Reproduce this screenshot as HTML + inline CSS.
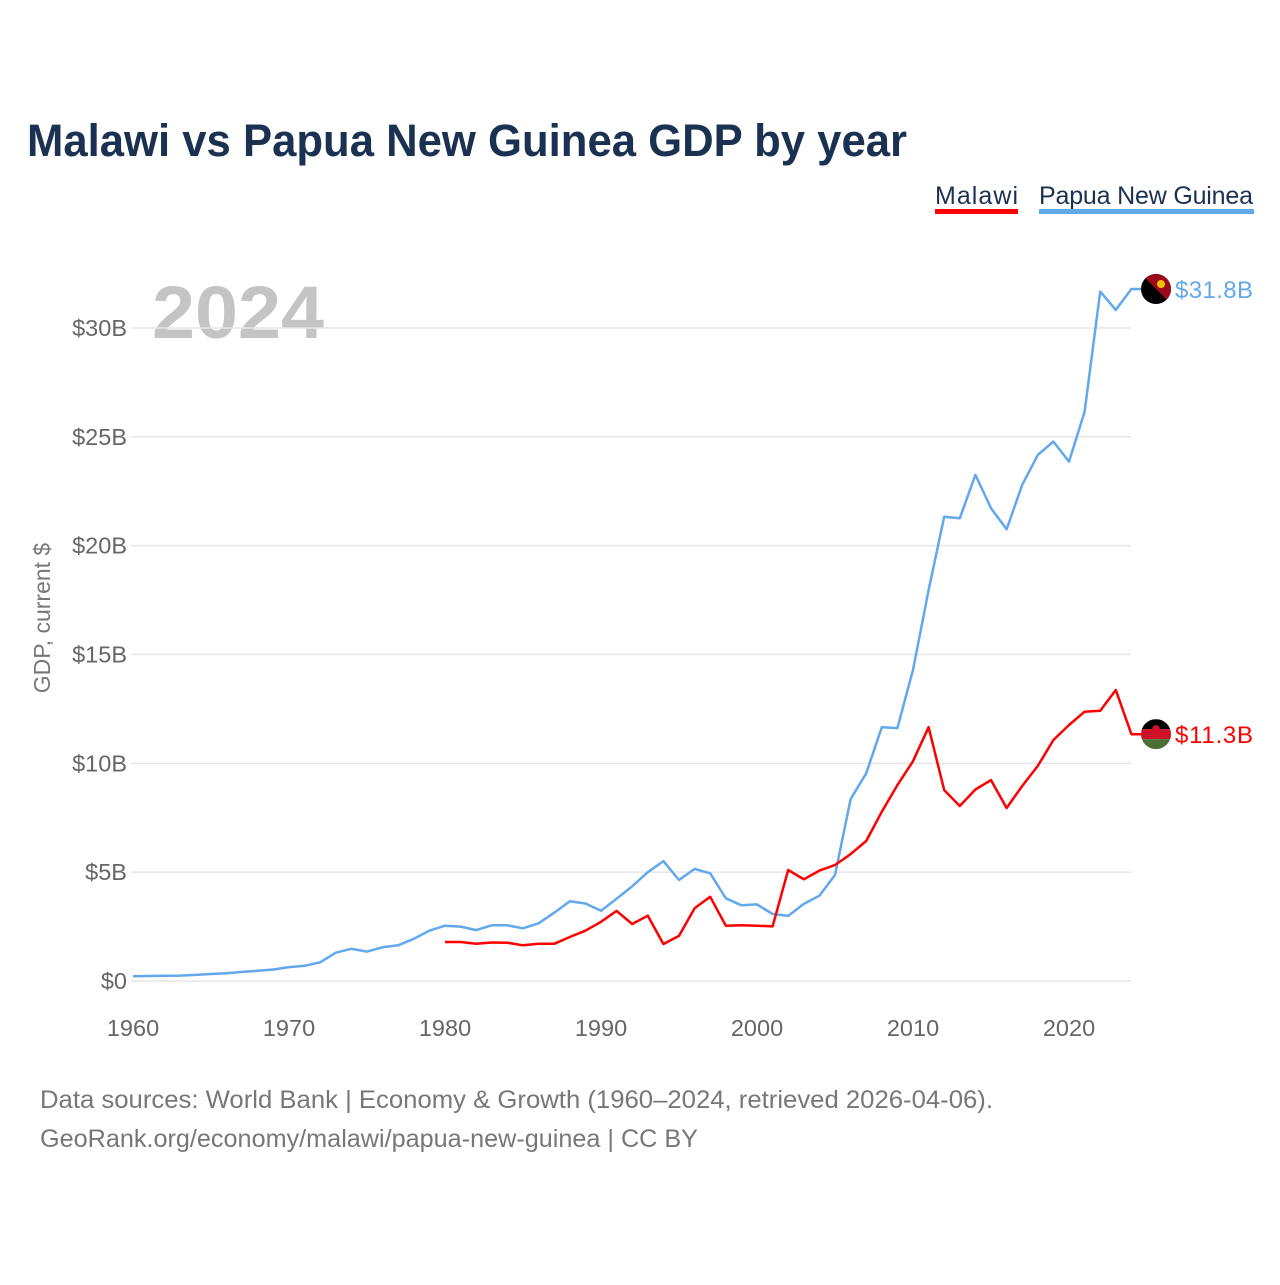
<!DOCTYPE html>
<html><head><meta charset="utf-8"><style>
body{margin:0;background:#fff;width:1280px;height:1280px;overflow:hidden;font-family:"Liberation Sans",sans-serif}
</style></head><body>
<svg width="1280" height="1280" xmlns="http://www.w3.org/2000/svg">
<text x="27" y="156" font-size="45" font-weight="bold" fill="#1b3152" textLength="880" lengthAdjust="spacingAndGlyphs">Malawi vs Papua New Guinea GDP by year</text>
<g>
<text x="935" y="204" font-size="25" fill="#1b3152" textLength="83">Malawi</text>
<rect x="935" y="209" width="83" height="5" fill="#ff0000"/>
<text x="1039" y="204" font-size="25" fill="#1b3152" textLength="214">Papua New Guinea</text>
<rect x="1039" y="209" width="215" height="5" fill="#62a8ec"/>
</g>
<text x="152" y="338" font-size="74" font-weight="bold" fill="#c4c4c4" textLength="172" lengthAdjust="spacingAndGlyphs">2024</text>
<g id="grid"></g><g id="lines"></g><g id="labels"></g>
<text transform="translate(50,618) rotate(-90)" text-anchor="middle" font-size="23" fill="#777">GDP, current $</text>
<text x="40" y="1108" font-size="25" fill="#777" textLength="953" lengthAdjust="spacingAndGlyphs">Data sources: World Bank | Economy &amp; Growth (1960–2024, retrieved 2026-04-06).</text>
<text x="40" y="1147" font-size="25" fill="#777" textLength="658" lengthAdjust="spacingAndGlyphs">GeoRank.org/economy/malawi/papua-new-guinea | CC BY</text>
</svg>
<script>
const years=[];for(let y=1960;y<=2024;y++)years.push(y);
const pngValues=[0.22,0.23,0.24,0.25,0.28,0.32,0.36,0.42,0.47,0.53,0.64,0.7,0.86,1.3,1.48,1.35,1.55,1.64,1.94,2.31,2.54,2.5,2.34,2.56,2.56,2.42,2.65,3.14,3.66,3.56,3.23,3.78,4.35,5.0,5.51,4.64,5.15,4.95,3.8,3.48,3.52,3.08,2.99,3.54,3.92,4.87,8.35,9.54,11.66,11.62,14.29,17.96,21.33,21.26,23.25,21.72,20.75,22.79,24.17,24.78,23.86,26.15,31.67,30.83,31.79];
const mwValues=[null,null,null,null,null,null,null,null,null,null,null,null,null,null,null,null,null,null,null,null,1.79,1.79,1.71,1.77,1.76,1.64,1.71,1.71,2.02,2.31,2.72,3.22,2.62,3.0,1.7,2.07,3.34,3.87,2.54,2.56,2.54,2.51,5.1,4.67,5.07,5.33,5.83,6.43,7.78,9.0,10.1,11.66,8.77,8.04,8.8,9.23,7.95,8.96,9.88,11.07,11.76,12.37,12.42,13.37,11.34];
const yTicks=[0,5,10,15,20,25,30];
const yTickLabels=["$0","$5B","$10B","$15B","$20B","$25B","$30B"];
const xTicks=[1960,1970,1980,1990,2000,2010,2020];
const NS="http://www.w3.org/2000/svg";
const xs=yr=>133+(yr-1960)*15.6;
const ys=v=>981-v*21.767;
function mk(tag,attrs,parent,text){const e=document.createElementNS(NS,tag);for(const k in attrs)e.setAttribute(k,attrs[k]);if(text!==undefined)e.textContent=text;parent.appendChild(e);return e;}
const grid=document.getElementById('grid'),lines=document.getElementById('lines'),labels=document.getElementById('labels');
yTicks.forEach((t,i)=>{
 const l=mk('line',{x1:131,x2:1131,y1:ys(t),y2:ys(t),stroke:'#e6e6e6','stroke-width':1.5},grid);
 
 
 const tx=mk('text',{x:127,y:ys(t)+8,'text-anchor':'end','font-size':23.5,fill:'#666'},grid,yTickLabels[i]);
 
 
});
xTicks.forEach(t=>{
 const tx=mk('text',{x:xs(t),y:1036,'text-anchor':'middle','font-size':23.5,fill:'#666'},grid,String(t));
 
 
});
function path(vals,color,name){
 let d='';let last=null;
 vals.forEach((v,i)=>{if(v==null)return;d+=(d?'L':'M')+xs(years[i]).toFixed(1)+','+ys(v).toFixed(1);last=v;});
 d+='L1141,'+ys(last).toFixed(1);
 const p=mk('path',{d:d,fill:'none',stroke:color,'stroke-width':2.5,'stroke-linejoin':'round'},lines);
 
 
 return last;
}
const lp=path(pngValues,'#62a8ec','line-papua-new-guinea');
const lm=path(mwValues,'#ff0000','line-malawi');
let g=mk('g',{},labels);


const cy1=ys(lp);
mk('defs',{},g).innerHTML='<clipPath id="c1"><circle cx="1156" cy="'+cy1+'" r="15"/></clipPath><clipPath id="c2"><circle cx="1156" cy="'+ys(lm)+'" r="15"/></clipPath>';
mk('circle',{cx:1156,cy:cy1,r:15,fill:'#000'},g);
mk('polygon',{points:(1141)+','+(cy1-15)+' 1171,'+(cy1-15)+' 1171,'+(cy1+15),fill:'#9b0a1c','clip-path':'url(#c1)'},g);
mk('circle',{cx:1161,cy:cy1-5,r:4,fill:'#f2c200'},g);
const t1=mk('text',{x:1175,y:cy1+9,'font-size':24,fill:'#62a8ec',textLength:78},labels,'$'+lp.toFixed(1)+'B');


g=mk('g',{'clip-path':'url(#c2)'},labels);


const cy2=ys(lm);
mk('rect',{x:1141,y:cy2-15,width:30,height:10,fill:'#000'},g);
mk('rect',{x:1141,y:cy2-5,width:30,height:10,fill:'#ce1126'},g);
mk('rect',{x:1141,y:cy2+5,width:30,height:10,fill:'#4a7135'},g);
mk('circle',{cx:1156,cy:cy2-5,r:4,fill:'#ce1126'},g);
const t2=mk('text',{x:1175,y:cy2+9,'font-size':24,fill:'#ff0000',textLength:78},labels,'$'+lm.toFixed(1)+'B');


</script>
</body></html>
